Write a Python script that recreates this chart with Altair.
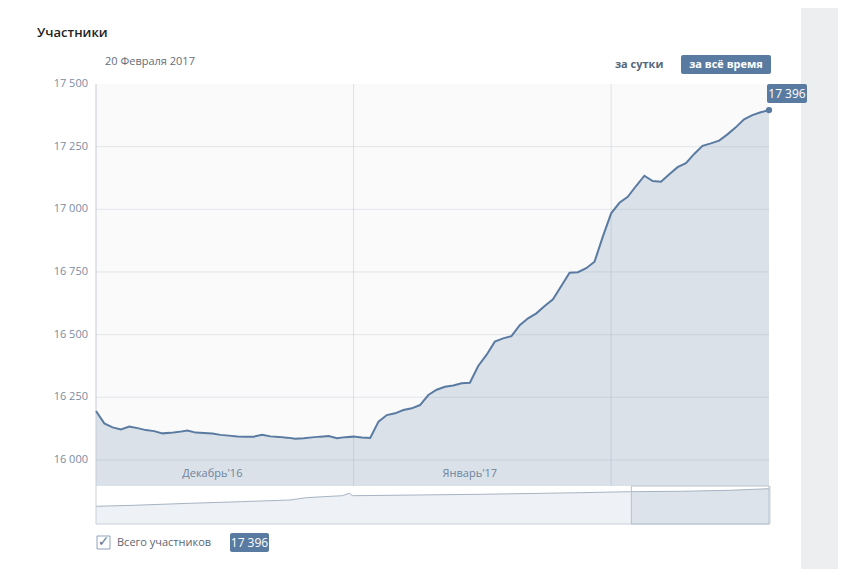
import altair as alt
import pandas as pd

# ---------------- data ----------------
start_date = "2016-12-01"
members = [16195, 16146, 16130, 16122, 16133, 16127, 16119, 16115, 16106, 16108,
           16112, 16117, 16109, 16107, 16105, 16100, 16097, 16094, 16093, 16093,
           16100, 16094, 16092, 16089, 16085, 16087, 16090, 16093, 16095, 16087,
           16091, 16093, 16090, 16088, 16153, 16179, 16186, 16199, 16206, 16219,
           16259, 16280, 16292, 16297, 16306, 16308, 16375, 16419, 16472, 16485,
           16494, 16538, 16565, 16585, 16614, 16641, 16694, 16747, 16749, 16765,
           16791, 16891, 16984, 17026, 17050, 17093, 17134, 17113, 17110, 17140,
           17168, 17184, 17221, 17253, 17263, 17274, 17299, 17327, 17359, 17376,
           17387, 17396]
y_ticks = [16000, 16250, 16500, 16750, 17000, 17250, 17500]
y_tick_labels = ["16 000", "16 250", "16 500", "16 750", "17 000", "17 250", "17 500"]
month_starts = ["2017-01-01", "2017-02-01"]
month_label_dates = ["2016-12-15", "2017-01-15"]
month_labels = ["Декабрь'16", "Январь'17"]

nav_dates = ["2016-01-21", "2016-02-12", "2016-03-16", "2016-04-15", "2016-05-14",
             "2016-05-24", "2016-06-03", "2016-06-14", "2016-06-18", "2016-06-20",
             "2016-07-12", "2016-09-03", "2016-11-01", "2016-12-01", "2016-12-30",
             "2017-01-28", "2017-02-20"]
nav_values = [8710, 9202, 10186, 10974, 11810, 12942, 13434, 13926, 15107, 13926,
              14123, 14615, 15403, 15895, 16092, 16584, 17371]
selection = ["2016-12-01", "2017-02-20"]

last_label = "17 396"

# ---------------- helpers ----------------
def ms(s):
    return int(pd.Timestamp(s).value // 10**6)

FONT = "Open Sans"
BLUE = "#5a7ba1"
Y_MIN, Y_MAX = 15896, 17500

main_df = pd.DataFrame({
    "t": [ms(d) for d in pd.date_range(start_date, periods=len(members))],
    "v": members,
})
last_df = main_df.tail(1)
tick_df = pd.DataFrame({"v": y_ticks, "label": y_tick_labels})
vgrid_df = pd.DataFrame({"t": [ms(d) for d in month_starts]})
month_df = pd.DataFrame({"t": [ms(d) for d in month_label_dates], "label": month_labels})
nav_df = pd.DataFrame({"t": [ms(d) for d in nav_dates], "v": nav_values})
sel_df = pd.DataFrame({"t": [ms(selection[0])], "t2": [ms(selection[1])]})
dummy = pd.DataFrame({"a": [0]})

X_MAIN = alt.Scale(domain=[ms("2016-12-01"), ms("2017-02-20")], range=[88, 761])
Y_MAIN = alt.Scale(domain=[Y_MIN, Y_MAX], range=[478, 76], zero=False, nice=False)
X_NAV = alt.Scale(domain=[ms("2016-01-21"), ms("2017-02-20")], range=[88, 761])
Y_NAV = alt.Scale(domain=[0, 18700], range=[516, 478], zero=False, nice=False)


def rect(x1, x2, y1, y2, **kw):
    return alt.Chart(dummy).mark_rect(**kw).encode(
        x=alt.value(x1), x2=alt.value(x2), y=alt.value(y1), y2=alt.value(y2))


def rule(x1, x2, y1, y2, color, width=1):
    return alt.Chart(dummy).mark_rule(color=color, strokeWidth=width).encode(
        x=alt.value(x1), x2=alt.value(x2), y=alt.value(y1), y2=alt.value(y2))


def txt(s, x, y, size=11, color="#222222", weight="normal", align="left", font=FONT):
    return alt.Chart(dummy).mark_text(
        text=s, fontSize=size, font=font, color=color, fontWeight=weight,
        align=align, baseline="middle").encode(x=alt.value(x), y=alt.value(y))


xm = alt.X("t:T", scale=X_MAIN, axis=None)
ym = alt.Y("v:Q", scale=Y_MAIN, axis=None)
xn = alt.X("t:T", scale=X_NAV, axis=None)
yn = alt.Y("v:Q", scale=Y_NAV, axis=None)

layers = []
# right gray page strip
layers.append(rect(793, 830, 0, 561, color="#edeef0"))
# plot background
layers.append(rect(88, 761, 76, 478, color="#fafafa"))
# area
layers.append(alt.Chart(main_df).mark_area(color="#dae1e9").encode(
    x=xm, y=ym, y2=alt.datum(Y_MIN)))
# horizontal gridlines
layers.append(alt.Chart(tick_df).transform_filter(alt.datum.v < Y_MAX).mark_rule(
    color="#8fa1b5", opacity=0.22, strokeWidth=1).encode(
    y=ym, x=alt.value(88), x2=alt.value(761)))
# vertical month gridlines
layers.append(alt.Chart(vgrid_df).mark_rule(
    color="#8fa1b5", opacity=0.25, strokeWidth=1).encode(
    x=xm, y=alt.value(76), y2=alt.value(478)))
# left axis line
layers.append(rule(88, 88, 76, 478, "#c3ccd6"))
# main line
layers.append(alt.Chart(main_df).mark_line(color=BLUE, strokeWidth=2).encode(x=xm, y=ym))
# end point
layers.append(alt.Chart(last_df).mark_point(
    filled=True, color=BLUE, size=40, opacity=1).encode(x=xm, y=ym))
# end badge
layers.append(rect(759, 799, 76, 95, color=BLUE, cornerRadius=2))
layers.append(txt(last_label, 779, 86, size=12, color="white", align="center"))
# y tick labels
layers.append(alt.Chart(tick_df).mark_text(
    font=FONT, fontSize=11, color="#7a8ca3", align="right", baseline="middle").encode(
    y=ym, x=alt.value(80), text="label:N"))
# month labels
layers.append(alt.Chart(month_df).mark_text(
    font=FONT, fontSize=11, color="#6e839c", align="center", baseline="middle").encode(
    x=xm, y=alt.value(466), text="label:N"))

# navigator
layers.append(alt.Chart(nav_df).mark_area(color="#eef1f5").encode(
    x=xn, y=yn, y2=alt.datum(0)))
layers.append(alt.Chart(nav_df).transform_filter(
    alt.datum.t >= ms(selection[0])).mark_area(color="#dce3eb").encode(
    x=xn, y=yn, y2=alt.datum(0)))
layers.append(alt.Chart(nav_df).mark_line(color="#a7b4c3", strokeWidth=1).encode(x=xn, y=yn))
layers.append(rule(88, 88, 478, 516, "#c8d0da"))
layers.append(rule(88, 762, 516, 516, "#c8d0da"))
layers.append(rule(762, 762, 478, 516, "#c8d0da"))
layers.append(alt.Chart(sel_df).mark_rect(
    fill="transparent", stroke="#b5c1cd", strokeWidth=1).encode(
    x=xn, x2="t2:T", y=alt.value(478), y2=alt.value(516)))

# header
layers.append(txt("Участники", 29, 25, size=13, color="#222222", weight=600))
layers.append(txt("20 Февраля 2017", 97, 54, size=11, color="#656e79"))
layers.append(txt("за сутки", 607, 56.5, size=11, color="#55677d", weight="bold"))
layers.append(rect(673, 763, 47, 66, color=BLUE, cornerRadius=2))
layers.append(txt("за всё время", 718, 56.5, size=11, color="white", weight="bold",
                  align="center"))

# legend
layers.append(rect(89, 102, 528, 541, fill="white", stroke="#8ea3bc", strokeWidth=1))
layers.append(txt("✓", 95.5, 534, size=14, color=BLUE, weight="bold", align="center",
                  font="DejaVu Sans"))
layers.append(txt("Всего участников", 109, 535, size=11, color="#5c6673"))
layers.append(rect(222, 261, 525, 544, color=BLUE, cornerRadius=2))
layers.append(txt(last_label, 241.5, 535, size=12, color="white", align="center"))

chart = alt.layer(*layers).resolve_scale(
    x="independent", y="independent"
).properties(
    width=830, height=561, padding=0,
    autosize=alt.AutoSizeParams(type="none"),
    background="white",
).configure_view(stroke=None)

chart.save("out.html", embed_options={"renderer": "svg", "actions": False})
